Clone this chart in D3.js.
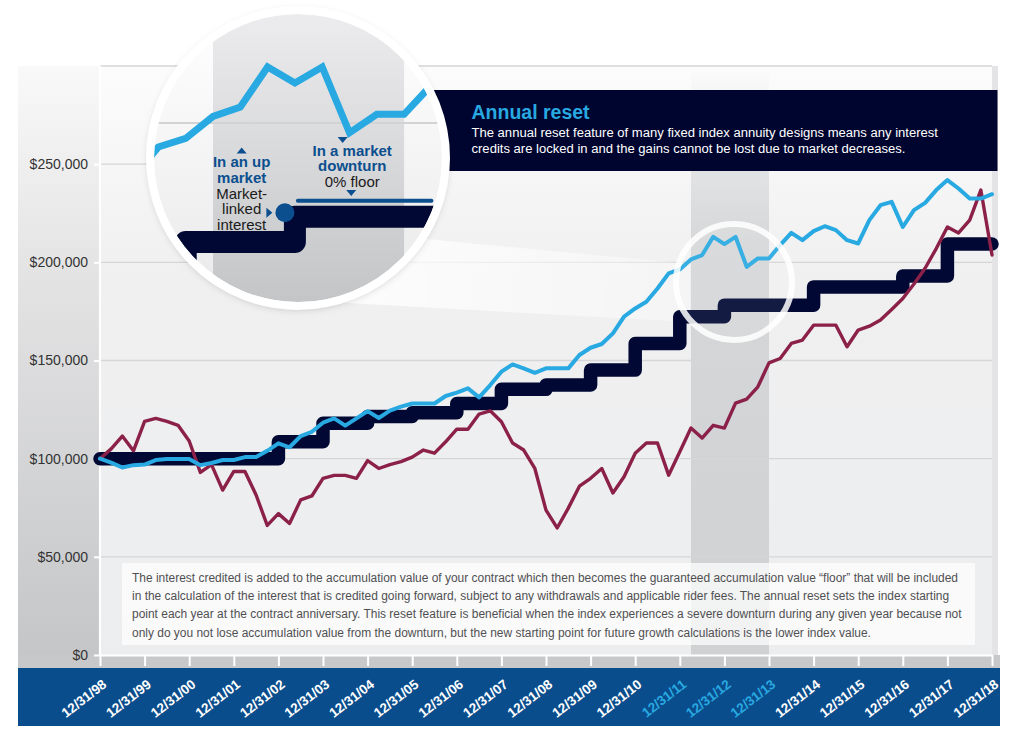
<!DOCTYPE html>
<html><head><meta charset="utf-8">
<script src="https://cdn.jsdelivr.net/npm/d3@7/dist/d3.min.js"></script>
<style>
html,body{margin:0;padding:0;background:#fff;}
svg{display:block;font-family:"Liberation Sans",Arial,Helvetica,sans-serif;}
</style></head><body>
<svg id="chart" width="1024" height="736"></svg>
<script>
// ---------------- DATA ----------------
const xLabels = ["12/31/98","12/31/99","12/31/00","12/31/01","12/31/02","12/31/03","12/31/04",
  "12/31/05","12/31/06","12/31/07","12/31/08","12/31/09","12/31/10","12/31/11","12/31/12",
  "12/31/13","12/31/14","12/31/15","12/31/16","12/31/17","12/31/18"];
const highlightLabels = ["12/31/11","12/31/12","12/31/13"];
const yTicks = [0, 50000, 100000, 150000, 200000, 250000];
// quarterly values ($ thousands), 12/31/98 .. 12/31/18
const indexValue = [100,105,111.5,104,119,120.5,119,117,109,93,97,84,93.5,93.5,81.5,66,72,67,79,81,
  90,91.5,91.5,90,99,95,97,98.5,100.8,104.4,102.8,108.6,115,115,122.7,124.4,118.8,108,104.4,95,
  73.8,64.7,74.8,86,90,95,82.5,90.8,102.8,108,108,91.6,103.5,115.6,110.5,117,115.6,128.3,130.3,136.6,
  148.8,151,158.7,160.4,168,168,168,157,165.5,167.5,170.6,176,181.6,189,197,207,218,215,221.5,236.8,203.7];
const resetValue = [100,98,95.5,96.7,97,99.3,99.8,99.8,99.8,96.7,97.8,99.3,99.3,100.8,100.8,104,107.8,105.8,111.5,113.7,
  118.3,120.5,116.8,120.5,124.2,120.7,124.5,126.5,128.1,128.1,128.1,131.9,133.6,135.8,131.2,137.5,144.3,148,146,143.7,
  146,146,146,152.8,156.5,158.4,163.8,172.3,176.5,179.9,186.7,194.4,196.4,201.5,203.7,213,209.3,213,197.7,202,
  202,208.8,215,211.3,215.9,218.4,216.4,211.3,209.6,221.5,229.1,230.8,218,226.6,230.3,236.8,241.9,237.6,232.5,232.5,234.7];
// yearly accumulation value floor ($ thousands), value from each anniversary
const floorValue = [100,100,100,100,108.6,118,121.5,123.4,128.1,135.3,137.5,145.1,158.7,172.3,178.2,178.2,187.5,187.5,193,209.3,209.3];
const bandQuarters = [53, 60];   // shaded period
const zoomGridValue = 200;       // gridline shown in magnifier

const paragraph = [
 "The interest credited is added to the accumulation value of your contract which then becomes the guaranteed accumulation value \u201cfloor\u201d that will be included",
 "in the calculation of the interest that is credited going forward, subject to any withdrawals and applicable rider fees. The annual reset sets the index starting",
 "point each year at the contract anniversary. This reset feature is beneficial when the index experiences a severe downturn during any given year because not",
 "only do you not lose accumulation value from the downturn, but the new starting point for future growth calculations is the lower index value."];
const boxTitle = "Annual reset";
const boxText = ["The annual reset feature of many fixed index annuity designs means any interest",
 "credits are locked in and the gains cannot be lost due to market decreases."];

// ---------------- COLORS ----------------
const C = {blue:"#28a9e1", maroon:"#8b2148", navy:"#000833", mid:"#0b4f8f", band:"#0a4d8c"};

const svg = d3.select("#chart");
const defs = svg.append("defs");
function vgrad(id, stops){
  const g = defs.append("linearGradient").attr("id",id).attr("x1",0).attr("y1",0).attr("x2",0).attr("y2",1);
  stops.forEach(s=>g.append("stop").attr("offset",s[0]).attr("stop-color",s[1]).attr("stop-opacity",s[2]==null?1:s[2]));
}
vgrad("leftCol",[[0,"#f9f9f9"],[0.35,"#e3e3e4"],[1,"#c4c5c7"]]);
vgrad("plotBg",[[0,"#fcfcfc"],[0.35,"#f0f0f1"],[1,"#ecedee"]]);
vgrad("bandG",[[0,"#d0d1d3",0],[0.3,"#d3d4d6",0.9],[1,"#d0d1d3",1]]);
vgrad("zoomBg",[[0,"#ffffff"],[1,"#e9e9ea"]]);
vgrad("zoomBand",[[0,"#ececee"],[1,"#c4c5c7"]]);
const hg = defs.append("linearGradient").attr("id","beamG").attr("x1",0).attr("x2",1).attr("y1",0).attr("y2",0);
hg.append("stop").attr("offset",0).attr("stop-color","#fff").attr("stop-opacity",0.85);
hg.append("stop").attr("offset",1).attr("stop-color","#fff").attr("stop-opacity",0.3);
const f = defs.append("filter").attr("id","shadow").attr("x","-20%").attr("y","-20%").attr("width","140%").attr("height","140%");
f.append("feDropShadow").attr("dx",0).attr("dy",2).attr("stdDeviation",4).attr("flood-color","#000").attr("flood-opacity",0.28);

// ---------------- SCALES ----------------
const x = d3.scaleLinear().domain([0,80]).range([100,992]);
const y = d3.scaleLinear().domain([0,300000]).range([655,66]);

// ---------------- BACKGROUND ----------------
svg.append("rect").attr("x",18).attr("y",66).attr("width",82).attr("height",602).attr("fill","url(#leftCol)");
svg.append("rect").attr("x",100).attr("y",66).attr("width",898).attr("height",589).attr("fill","url(#plotBg)");
svg.append("rect").attr("x",992).attr("y",66).attr("width",6).attr("height",589).attr("fill","#e4e4e6");
svg.append("rect").attr("x",x(bandQuarters[0])).attr("y",66).attr("width",x(bandQuarters[1])-x(bandQuarters[0]))
  .attr("height",589).attr("fill","url(#bandG)");
svg.append("rect").attr("x",18).attr("y",655).attr("width",982).attr("height",13).attr("fill","#c7c8ca");
svg.append("rect").attr("x",18).attr("y",668).attr("width",982).attr("height",58).attr("fill",C.band);

// gridlines
svg.append("g").selectAll("line").data(y.ticks(6).filter(d=>d>0)).join("line")
  .attr("x1",100).attr("x2",992).attr("y1",d=>y(d)).attr("y2",d=>y(d))
  .attr("stroke","#d5d6d8").attr("stroke-width",1.3);

// axes
const yAxis = svg.append("g").attr("transform","translate(100,0)")
  .call(d3.axisLeft(y).tickValues(yTicks).tickFormat(d3.format("$,")).tickSize(6).tickSizeOuter(0).tickPadding(6));
yAxis.select(".domain").remove();
yAxis.append("line").attr("x1",0).attr("x2",0).attr("y1",66).attr("y2",656).attr("stroke","#fff").attr("stroke-width",2.2);
yAxis.selectAll(".tick line").attr("stroke","#fff").attr("stroke-width",2);
yAxis.selectAll(".tick text").attr("fill","#333").attr("font-size",14).style("font-family","'Liberation Sans',Arial,sans-serif");

const xAxis = svg.append("g").attr("transform","translate(0,655)")
  .call(d3.axisBottom(x).tickValues(d3.range(0,81,4)).tickSize(11).tickSizeOuter(0).tickFormat((d,i)=>xLabels[i]));
xAxis.select(".domain").attr("stroke","#fff").attr("stroke-width",2.2);
xAxis.selectAll(".tick line").attr("stroke","#fff").attr("stroke-width",2);
xAxis.selectAll(".tick text")
  .attr("x",0).attr("y",0).attr("dy",0)
  .attr("transform","translate(7,31) rotate(-38)")
  .attr("text-anchor","end").attr("font-size",13.5).attr("font-weight","bold")
  .style("font-family","'Liberation Sans',Arial,sans-serif")
  .attr("fill",(d,i)=>highlightLabels.includes(xLabels[i]) ? C.blue : "#fff");

// beam from small circle to magnifier
svg.append("polygon").attr("points","395,236 690,264 690,322 330,302").attr("fill","url(#beamG)");

// ---------------- SERIES ----------------
const lineQ = d3.line().x((d,i)=>x(i)).y(d=>y(d*1000));
const stepData = floorValue.map((v,i)=>({q:i*4, v}));
const stepLine = d3.line().curve(d3.curveStepAfter).x(d=>x(d.q)).y(d=>y(d.v*1000));

svg.append("path").datum(stepData).attr("d",stepLine).attr("fill","none")
  .attr("stroke",C.navy).attr("stroke-width",13.5).attr("stroke-linejoin","round").attr("stroke-linecap","round");
svg.append("path").datum(indexValue).attr("d",lineQ).attr("fill","none")
  .attr("stroke",C.maroon).attr("stroke-width",3.4).attr("stroke-linejoin","round").attr("stroke-linecap","round");
svg.append("path").datum(resetValue).attr("d",lineQ).attr("fill","none")
  .attr("stroke",C.blue).attr("stroke-width",4).attr("stroke-linejoin","round").attr("stroke-linecap","round");

// small highlight circle
const smallC = {cx:(x(bandQuarters[0])+x(bandQuarters[1]))/2 + 4, cy: y(190000), r:58};
svg.append("circle").attr("cx",smallC.cx).attr("cy",smallC.cy).attr("r",smallC.r)
  .attr("fill","#fff").attr("fill-opacity",0.08).attr("stroke","#fff").attr("stroke-opacity",0.85).attr("stroke-width",6);

// ---------------- TEXT BOX (bottom) ----------------
svg.append("rect").attr("x",122).attr("y",563).attr("width",853).attr("height",82).attr("fill","#fff").attr("fill-opacity",0.72);
const pg = svg.append("g");
const pts = pg.selectAll("text").data(paragraph).join("text")
  .attr("x",132).attr("y",(d,i)=>582+i*18.2).attr("font-size",12).attr("fill","#505052").text(d=>d);
const pf = 826 / pts.nodes()[0].getComputedTextLength();
pts.each(function(){ const L=this.getComputedTextLength(); d3.select(this).attr("textLength",L*pf).attr("lengthAdjust","spacingAndGlyphs"); });

// ---------------- ANNUAL RESET BOX ----------------
svg.append("rect").attr("x",420).attr("y",90).attr("width",577.5).attr("height",81).attr("fill","#00052f");
svg.append("text").attr("x",471.5).attr("y",119).attr("font-size",19.5).attr("font-weight","bold").attr("fill",C.blue).text(boxTitle);
const bts = svg.append("g").selectAll("text").data(boxText).join("text")
  .attr("x",471.5).attr("y",(d,i)=>137+i*15.5).attr("font-size",12.5).attr("fill","#fff").text(d=>d);
const bf = 466.5 / bts.nodes()[0].getComputedTextLength();
bts.each(function(){ const L=this.getComputedTextLength(); d3.select(this).attr("textLength",L*bf).attr("lengthAdjust","spacingAndGlyphs"); });

// ---------------- MAGNIFIER ----------------
const M = {cx:298, cy:158, r:144};
defs.append("clipPath").attr("id","magClip").append("circle").attr("cx",M.cx).attr("cy",M.cy).attr("r",M.r);
svg.append("circle").attr("cx",M.cx).attr("cy",M.cy).attr("r",M.r+4).attr("fill","#fff").attr("filter","url(#shadow)");
const mag = svg.append("g").attr("clip-path","url(#magClip)");
const xz = d3.scaleLinear().domain([53,61]).range([213,431.4]);
const yz = d3.scaleLinear().domain([213000,200000]).range([67,122.9]);
mag.append("rect").attr("x",M.cx-M.r).attr("y",M.cy-M.r).attr("width",2*M.r).attr("height",2*M.r).attr("fill","url(#zoomBg)");
mag.append("rect").attr("x",xz(bandQuarters[0])).attr("y",M.cy-M.r).attr("width",xz(bandQuarters[1])-xz(bandQuarters[0]))
  .attr("height",2*M.r).attr("fill","url(#zoomBand)");
mag.append("line").attr("x1",M.cx-M.r).attr("x2",M.cx+M.r).attr("y1",yz(zoomGridValue*1000)).attr("y2",yz(zoomGridValue*1000))
  .attr("stroke","#d2d3d5").attr("stroke-width",2);
const stepZ = d3.line().curve(d3.curveStepAfter).x(d=>xz(d.q)).y(d=>yz(d.v*1000));
mag.append("path").datum(stepData.filter(d=>d.q>=44 && d.q<=68)).attr("d",stepZ).attr("fill","none")
  .attr("stroke",C.navy).attr("stroke-width",22).attr("stroke-linejoin","round");
const lineZ = d3.line().x((d,i)=>xz(i)).y(d=>yz(d*1000));
mag.append("path").datum(resetValue).attr("d",lineZ).attr("fill","none")
  .attr("stroke",C.blue).attr("stroke-width",7).attr("stroke-linejoin","miter");

// annotations inside magnifier
const riserX = xz(56), upperY = yz(floorValue[14]*1000);
mag.append("line").attr("x1",riserX+3).attr("x2",xz(61)).attr("y1",upperY-16).attr("y2",upperY-16)
  .attr("stroke",C.mid).attr("stroke-width",4).attr("stroke-linecap","round");
mag.append("circle").attr("cx",riserX-10).attr("cy",upperY-4).attr("r",9.5).attr("fill",C.mid);
const tri = (cx,cy,dir,s=5)=>{
  if(dir==="up") return `${cx-s},${cy+3} ${cx+s},${cy+3} ${cx},${cy-3}`;
  if(dir==="down") return `${cx-s},${cy-3} ${cx+s},${cy-3} ${cx},${cy+3}`;
  return `${cx-3},${cy-s} ${cx-3},${cy+s} ${cx+3},${cy}`;
};
const upX = xz(54.05), downX = xz(58.1);
mag.append("polygon").attr("points",tri(upX,150.5,"up")).attr("fill",C.mid);
mag.append("polygon").attr("points",tri(xz(57.75),140,"down")).attr("fill",C.mid);
mag.append("polygon").attr("points",tri(downX-1,193,"down")).attr("fill",C.mid);
mag.append("polygon").attr("points",tri(riserX-25.5,upperY-4,"right")).attr("fill",C.mid);
const annL = [["In an up",true],["market",true],["Market-",false],["linked",false],["interest",false]];
const annR = [["In a market",true],["downturn",true],["0% floor",false]];
mag.append("g").selectAll("text").data(annL).join("text")
  .attr("x",upX).attr("y",(d,i)=>167+i*15.8).attr("text-anchor","middle").attr("font-size",15)
  .attr("font-weight",d=>d[1]?"bold":"normal").attr("fill",d=>d[1]?C.mid:"#1a1a1a").text(d=>d[0]);
mag.append("g").selectAll("text").data(annR).join("text")
  .attr("x",downX).attr("y",(d,i)=>155.7+i*15.7).attr("text-anchor","middle").attr("font-size",15)
  .attr("font-weight",d=>d[1]?"bold":"normal").attr("fill",d=>d[1]?C.mid:"#1a1a1a").text(d=>d[0]);
svg.append("circle").attr("cx",M.cx).attr("cy",M.cy).attr("r",M.r+4).attr("fill","none").attr("stroke","#fff").attr("stroke-width",8);
</script>
</body></html>
